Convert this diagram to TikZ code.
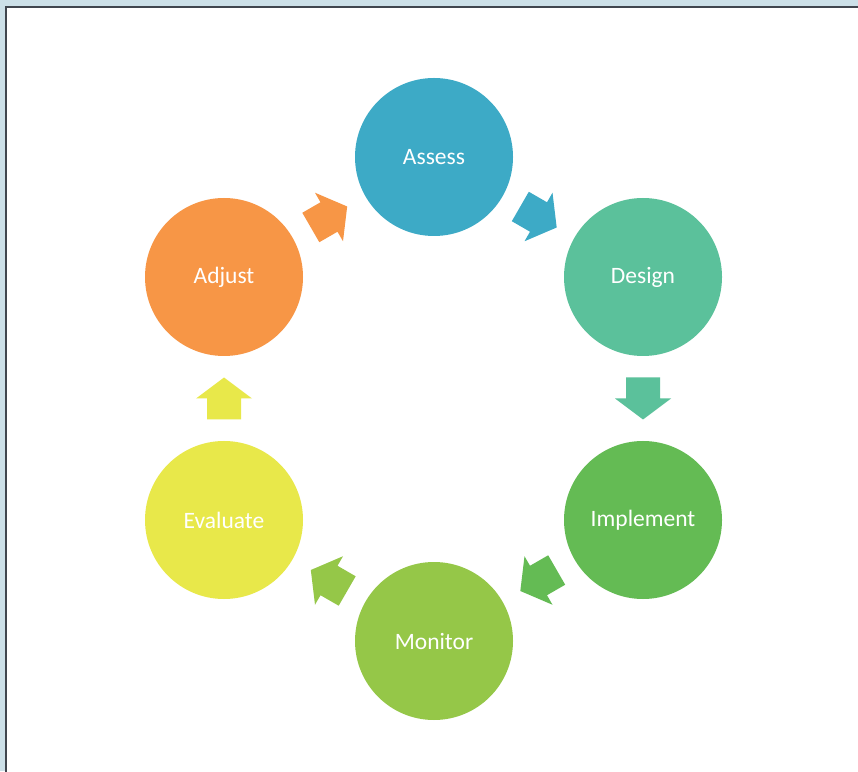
\documentclass[tikz,border=0pt]{standalone}
\usepackage{fontspec}
\setmainfont{Carlito}
\usetikzlibrary{calc}
\definecolor{cBack}{RGB}{204,224,232}
\definecolor{cFrame}{RGB}{64,70,78}
\definecolor{cAssess}{RGB}{61,170,198}
\definecolor{cDesign}{RGB}{91,193,155}
\definecolor{cImplement}{RGB}{100,187,84}
\definecolor{cMonitor}{RGB}{149,199,72}
\definecolor{cEvaluate}{RGB}{232,232,74}
\definecolor{cAdjust}{RGB}{247,150,70}
\tikzset{
  stage/.style={circle,fill=#1,minimum size=158pt,inner sep=0pt,text=white,
    font=\fontsize{23.5}{28}\selectfont},
  blockarrow/.pic={\fill[#1](-21,-17)--(0,-17)--(0,-28)--(21,0)--(0,28)--(0,17)--(-21,17)--cycle;}
}
\begin{document}
\begin{tikzpicture}[x=1pt,y=1pt]
\useasboundingbox(0,0)rectangle(858,771);
\clip(0,0)rectangle(858,771);
\fill[cBack](0,0)rectangle(858,771);
\fill[white,draw=cFrame,line width=2pt](6,764)rectangle(862,-4);
% stages
\node[stage=cAssess](assess)at(434,614){Assess};
\node[stage=cDesign](design)at(643,494){Design};
\node[stage=cImplement](implement)at(643,251){Implement};
\node[stage=cMonitor](monitor)at(434,130){Monitor};
\node[stage=cEvaluate](evaluate)at(224,251){Evaluate};
\node[stage=cAdjust](adjust)at(224,494){Adjust};
% arrows
\pic[rotate=-30]at($(assess)!0.5!(design)$){blockarrow=cAssess};
\pic[rotate=-90]at($(design)!0.5!(implement)$){blockarrow=cDesign};
\pic[rotate=210]at($(implement)!0.5!(monitor)$){blockarrow=cImplement};
\pic[rotate=150]at($(monitor)!0.5!(evaluate)$){blockarrow=cMonitor};
\pic[rotate=90]at($(evaluate)!0.5!(adjust)$){blockarrow=cEvaluate};
\pic[rotate=30]at($(adjust)!0.5!(assess)$){blockarrow=cAdjust};
\end{tikzpicture}
\end{document}
